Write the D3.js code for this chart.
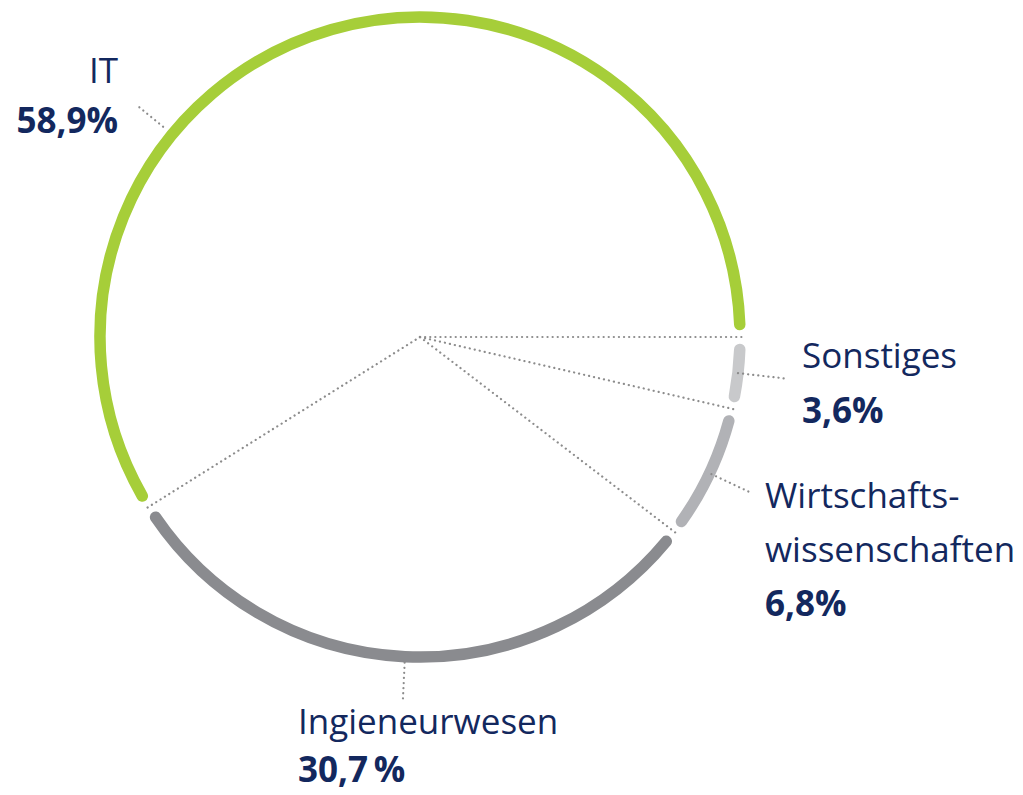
<!DOCTYPE html>
<html>
<head>
<meta charset="utf-8">
<script src="https://cdn.jsdelivr.net/npm/d3@7"></script>
<style>
  body { margin: 0; background: #fff; }
  text { font-family: "Open Sans", Lato, sans-serif; fill: #13285e; }
  .pct { font-weight: 700; }
</style>
</head>
<body>
<svg id="chart" width="1023" height="795"></svg>
<script>
// data, clockwise from 3 o'clock
const categories = ['Sonstiges', 'Wirtschafts-\nwissenschaften', 'Ingieneurwesen', 'IT'];
const shares = [3.6, 6.8, 30.7, 58.9];
const shareLabels = ['3,6%', '6,8%', '30,7\u2009%', '58,9%'];
const colors = ['#c8c9cb', '#b1b2b6', '#8a8b8f', '#a6ce39'];

const svg = d3.select('#chart');
const cx = 420, cy = 337, r = 320;
const g = svg.append('g').attr('transform', `translate(${cx},${cy})`);

let pie = d3.pie().sort(null).value(d => d.v)
    .startAngle(Math.PI / 2).endAngle(Math.PI / 2 + 2 * Math.PI);
let arcs = pie(categories.map((c, i) => ({c: c, v: shares[i], i: i})));

const pad = 12.5 / r;
const pt = (a, rad) => [Math.sin(a) * rad, -Math.cos(a) * rad];

// ring segments
arcs.forEach(d => {
    let p = d3.path();
    p.arc(0, 0, r, d.startAngle + pad - Math.PI / 2, d.endAngle - pad - Math.PI / 2);
    g.append('path')
        .attr('d', p.toString())
        .attr('fill', 'none')
        .attr('stroke', colors[d.data.i])
        .attr('stroke-width', 11.5)
        .attr('stroke-linecap', 'round');
});

// dotted lines from centre to the boundaries
const dotted = sel => sel.attr('stroke', '#8c8c8c').attr('stroke-width', 2.2)
    .attr('stroke-dasharray', '0.1,5').attr('stroke-linecap', 'round').attr('fill', 'none');

arcs.forEach(d => {
    let e = pt(d.startAngle, r + 2);
    g.append('line').attr('x1', 0).attr('y1', 0).attr('x2', e[0]).attr('y2', e[1]).call(dotted);
});

// leaders (IT leader sits off-centre, at upper left, next to its label)
const leaderIn = [0, 2, 6, 12];
const leaderAngle = [null, null, null, 309.3 * Math.PI / 180];
arcs.forEach((d, k) => {
    let m = leaderAngle[k] !== null ? leaderAngle[k] : (d.startAngle + d.endAngle) / 2;
    let a = pt(m, r + leaderIn[k]), b = pt(m, r + 46);
    g.append('line').attr('x1', a[0]).attr('y1', a[1]).attr('x2', b[0]).attr('y2', b[1]).call(dotted);
});

// labels: [x, y of first baseline, anchor]
const labelPos = [[802, 368, 'start'], [765, 508, 'start'], [298, 734, 'start'], [118, 83, 'end']];
const lineGap = [55, 54, 48, 50];
arcs.forEach((d, k) => {
    let [x, y, anchor] = labelPos[k];
    let lines = d.data.c.split('\n');
    let t = svg.append('text').attr('x', x).attr('y', y).attr('text-anchor', anchor)
        .style('font-size', '35px');
    lines.forEach((ln, j) => {
        t.append('tspan').attr('x', x).attr('y', y + j * lineGap[k]).text(ln);
    });
    t.append('tspan').attr('class', 'pct').attr('x', x)
        .attr('y', y + lines.length * lineGap[k]).text(shareLabels[d.data.i]);
});
</script>
</body>
</html>
